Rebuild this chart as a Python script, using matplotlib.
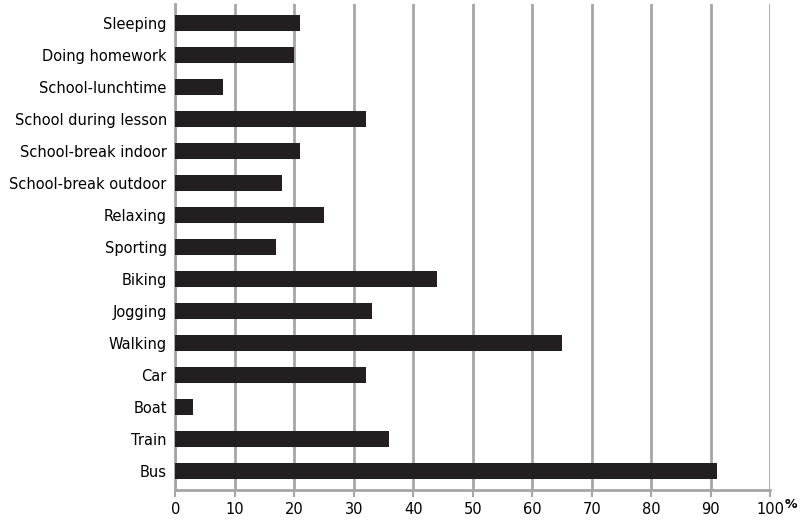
import matplotlib
matplotlib.use("Agg")
import matplotlib.pyplot as plt

categories = ["Sleeping", "Doing homework", "School-lunchtime", "School during lesson",
              "School-break indoor", "School-break outdoor", "Relaxing", "Sporting",
              "Biking", "Jogging", "Walking", "Car", "Boat", "Train", "Bus"]
values = [21, 20, 8, 32, 21, 18, 25, 17, 44, 33, 65, 32, 3, 36, 91]
xticks = list(range(0, 101, 10))

fig = plt.figure(figsize=(8, 5.2), dpi=100)
ax = fig.add_axes([0.219, 0.058, 0.744, 0.935])
y = list(range(len(categories)))[::-1]
ax.barh(y, values, height=0.5, color="#231f20", zorder=3)
ax.set_yticks(y)
ax.set_yticklabels(categories, fontsize=10.5)
ax.set_xlim(0, 100)
ax.set_ylim(-0.6, len(categories) - 0.4)
ax.set_xticks(xticks)
ax.set_xticklabels([str(t) for t in xticks], fontsize=10.5)
ax.xaxis.grid(True, color="#a6a6a6", linewidth=2, zorder=0)
for s in ["top", "right"]:
    ax.spines[s].set_visible(False)
ax.spines["left"].set_color("#a6a6a6")
ax.spines["left"].set_linewidth(2)
ax.spines["bottom"].set_color("#a6a6a6")
ax.spines["bottom"].set_linewidth(2)
ax.tick_params(axis="y", length=0, pad=6)
ax.tick_params(axis="x", color="#a6a6a6", length=5, width=1.5)
ax.annotate("%", xy=(1.0, 0), xycoords="axes fraction", xytext=(15, -6),
            textcoords="offset points", fontsize=9, fontweight="bold",
            ha="center", va="top", annotation_clip=False)
fig.savefig("out.png")
